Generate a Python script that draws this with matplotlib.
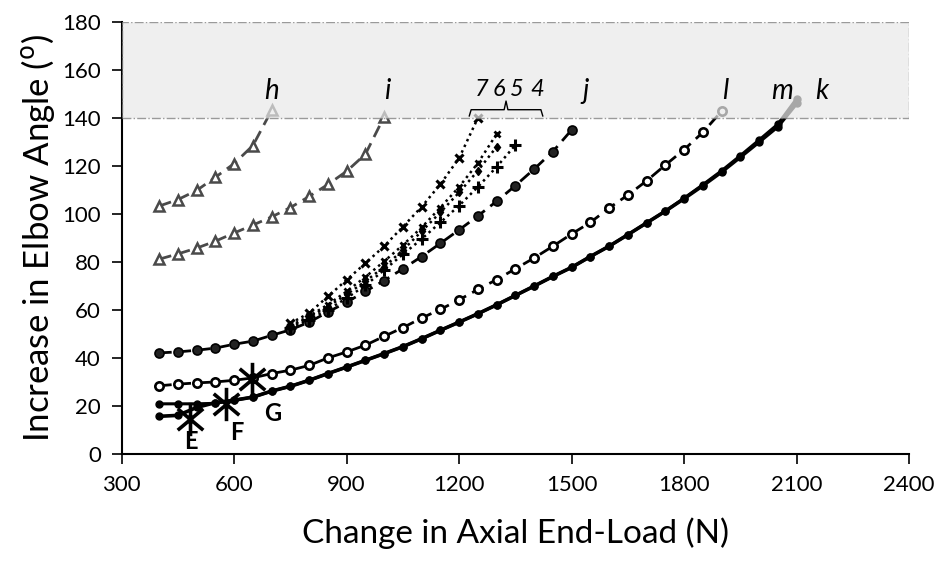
import matplotlib
matplotlib.use('Agg')
import numpy as np
import matplotlib.pyplot as plt
from matplotlib.patches import Rectangle
from matplotlib.path import Path

plt.rcParams['font.family'] = ['Lato', 'DejaVu Sans']

# Elbow angle data (x = axial end-load in N)
x_h = [400, 450, 500, 550, 600, 650, 700]
y_h = [103.3, 106.0, 109.8, 115.3, 121.0, 128.5, 143.2]

x_i = [400, 450, 500, 550, 600, 650, 700, 750, 800, 850, 900, 950, 1000]
y_i = [81.2, 83.4, 85.8, 88.7, 92.1, 95.4, 98.8, 102.7, 107.3, 112.3, 117.8, 124.9, 140.5]

x_j = [400, 450, 500, 550, 600, 650, 700, 750, 800, 850, 900, 950, 1000, 1050,
       1100, 1150, 1200, 1250, 1300, 1350, 1400, 1450, 1500]
y_j = [42.2, 42.6, 43.3, 44.2, 45.8, 47.1, 49.5, 51.8, 55.0, 59.2, 63.3, 67.8, 72.3, 77.2,
       82.3, 87.8, 93.4, 99.2, 105.3, 111.8, 118.7, 126.0, 135.0]

x_l = [400, 450, 500, 550, 600, 650, 700, 750, 800, 850, 900, 950, 1000, 1050, 1100,
       1150, 1200, 1250, 1300, 1350, 1400, 1450, 1500, 1550, 1600, 1650, 1700, 1750,
       1800, 1850, 1900]
y_l = [28.5, 29.2, 29.7, 30.1, 30.8, 31.8, 33.6, 35.0, 37.0, 40.1, 42.6, 45.4, 49.1, 52.7, 56.7,
       60.3, 64.3, 68.6, 72.7, 77.2, 81.7, 86.6, 91.7, 96.5, 102.5, 107.9, 113.8, 120.4,
       126.8, 134.0, 142.8]

x_km = [400, 450, 500, 550, 600, 650, 700, 750, 800, 850, 900, 950, 1000, 1050, 1100,
        1150, 1200, 1250, 1300, 1350, 1400, 1450, 1500, 1550, 1600, 1650, 1700, 1750,
        1800, 1850, 1900, 1950, 2000, 2050, 2100]
y_k = [15.8, 16.2, 19.5, 21.5, 22.5, 23.8, 26.3, 28.3, 30.8, 33.6, 36.3, 39.1, 41.9, 44.8, 48.1,
       51.6, 55.0, 58.5, 62.2, 66.1, 70.0, 74.0, 77.8, 82.3, 86.6, 91.4, 96.3, 101.2,
       106.4, 111.8, 117.5, 123.7, 130.0, 136.4, 146.0]
y_m = [21.0, 21.0, 21.0, 21.2, 22.5, 23.8, 26.3, 28.3, 30.8, 33.6, 36.3, 39.1, 41.9, 44.8, 48.1,
       51.6, 55.0, 58.5, 62.2, 66.1, 70.0, 74.0, 77.8, 82.3, 86.6, 91.4, 96.3, 101.2,
       106.6, 112.2, 118.0, 124.3, 130.8, 137.4, 148.0]

x_7 = [750, 800, 850, 900, 950, 1000, 1050, 1100, 1150, 1200, 1250]
y_7 = [54.5, 58.8, 65.7, 72.6, 79.5, 86.6, 94.7, 103.0, 112.4, 123.3, 140.0]
x_6 = [750, 800, 850, 900, 950, 1000, 1050, 1100, 1150, 1200, 1250, 1300]
y_6 = [53.5, 57.5, 62.3, 67.8, 73.8, 80.3, 87.1, 94.4, 102.7, 111.3, 121.2, 133.3]
x_5 = [750, 800, 850, 900, 950, 1000, 1050, 1100, 1150, 1200, 1250, 1300]
y_5 = [53.0, 57.0, 61.5, 66.5, 72.0, 78.0, 85.0, 92.8, 100.7, 109.0, 118.0, 128.0]
x_4 = [750, 800, 850, 900, 950, 1000, 1050, 1100, 1150, 1200, 1250, 1300, 1350]
y_4 = [52.5, 56.0, 60.2, 65.0, 70.3, 76.7, 83.2, 89.6, 96.5, 103.5, 111.3, 119.6, 128.7]

# marked points E, F, G
pt_names = ['E', 'F', 'G']
pt_x = [482, 578, 648]
pt_y = [14.8, 21.0, 31.5]

# asterisk marker: vertical stroke plus two diagonals
a = np.deg2rad(40)
star_verts = [(0, -1), (0, 1),
              (-np.cos(a), -np.sin(a)), (np.cos(a), np.sin(a)),
              (-np.cos(a), np.sin(a)), (np.cos(a), -np.sin(a))]
star_codes = [Path.MOVETO, Path.LINETO] * 3
star = Path(star_verts, star_codes)

fig = plt.figure(figsize=(9.47, 5.71), dpi=100)
ax = fig.add_axes([0.1285, 0.2044, 0.8315, 0.7575])

dash = (0, (4.5, 2.5))
tri_col = '#4a4a4a'
for xs, ys in [(x_h, y_h), (x_i, y_i)]:
    ax.plot(xs, ys, color=tri_col, lw=2.0, ls=dash, marker='^', ms=7.5,
            mfc='white', mec=tri_col, mew=1.8, zorder=3)

ax.plot(x_j, y_j, color='black', lw=2.0, ls=dash, marker='o', ms=6.5,
        mfc='#222222', mec='black', mew=1.2, zorder=3)
ax.plot(x_l, y_l, color='black', lw=2.0, ls=dash, marker='o', ms=6,
        mfc='white', mec='black', mew=1.9, zorder=3)

ax.plot(x_km, y_k, color='black', lw=2.6, marker='o', ms=5, mfc='black', zorder=4)
ax.plot(x_km, y_m, color='black', lw=2.2, marker='o', ms=5, mfc='black', zorder=4)

dots = (0, (1, 1.5))
ax.plot(x_7, y_7, color='black', lw=1.8, ls=dots, marker='x', ms=6, mew=2.2, zorder=3)
ax.plot(x_6, y_6, color='black', lw=1.8, ls=dots, marker='x', ms=5, mew=2, zorder=3)
ax.plot(x_5, y_5, color='black', lw=1.8, ls=dots, marker='d', ms=4.5, zorder=3)
ax.plot(x_4, y_4, color='black', lw=1.8, ls=dots, marker='+', ms=8, mew=2.2, zorder=3)

ax.plot(pt_x, pt_y, ls='none', marker=star, ms=24, mew=2.6, color='black', zorder=5)
for name, px, py, dx, dy in zip(pt_names, pt_x, pt_y, [3, 30, 56], [-9.5, -12, -14.5]):
    ax.text(px + dx, py + dy, name, fontsize=17, fontweight='bold', ha='center', va='center')

# shaded region above 140 degrees
ax.add_patch(Rectangle((300, 140), 2100, 40, facecolor='#e9e9e9', alpha=0.72,
                       edgecolor='#777777', lw=1, ls='-.', zorder=6))

lab_x = [701, 1007, 1538, 1909, 2060, 2167]
lab_t = ['h', 'i', 'j', 'l', 'm', 'k']
for t, lx in zip(lab_t, lab_x):
    ax.text(lx, 151, t, fontsize=20, style='italic', ha='center', va='center', zorder=7)
for t, lx in zip(['7', '6', '5', '4'], [1260, 1306, 1353, 1408]):
    ax.text(lx, 152, t, fontsize=17, style='italic', ha='center', va='center', zorder=7)
# curly bracket over the dotted curves
ax.plot([1227, 1232, 1320, 1325, 1330, 1418, 1423],
        [140.8, 143.4, 143.4, 147, 143.4, 143.4, 140.8], color='black', lw=1, zorder=7)

ax.set_xlim(300, 2400)
ax.set_ylim(0, 180)
ax.set_xticks(range(300, 2401, 300))
ax.set_yticks(range(0, 181, 20))
ax.tick_params(direction='out', length=7, width=1.2, labelsize=16, pad=8)
for s in ['top', 'right']:
    ax.spines[s].set_visible(False)
for s in ['left', 'bottom']:
    ax.spines[s].set_linewidth(1.5)

ax.set_xlabel('Change in Axial End-Load (N)', fontsize=24, labelpad=16)
ax.set_ylabel(r'Increase in Elbow Angle ($^{\mathrm{o}}$)', fontsize=25, labelpad=4)

fig.savefig('out.png', dpi=100)
